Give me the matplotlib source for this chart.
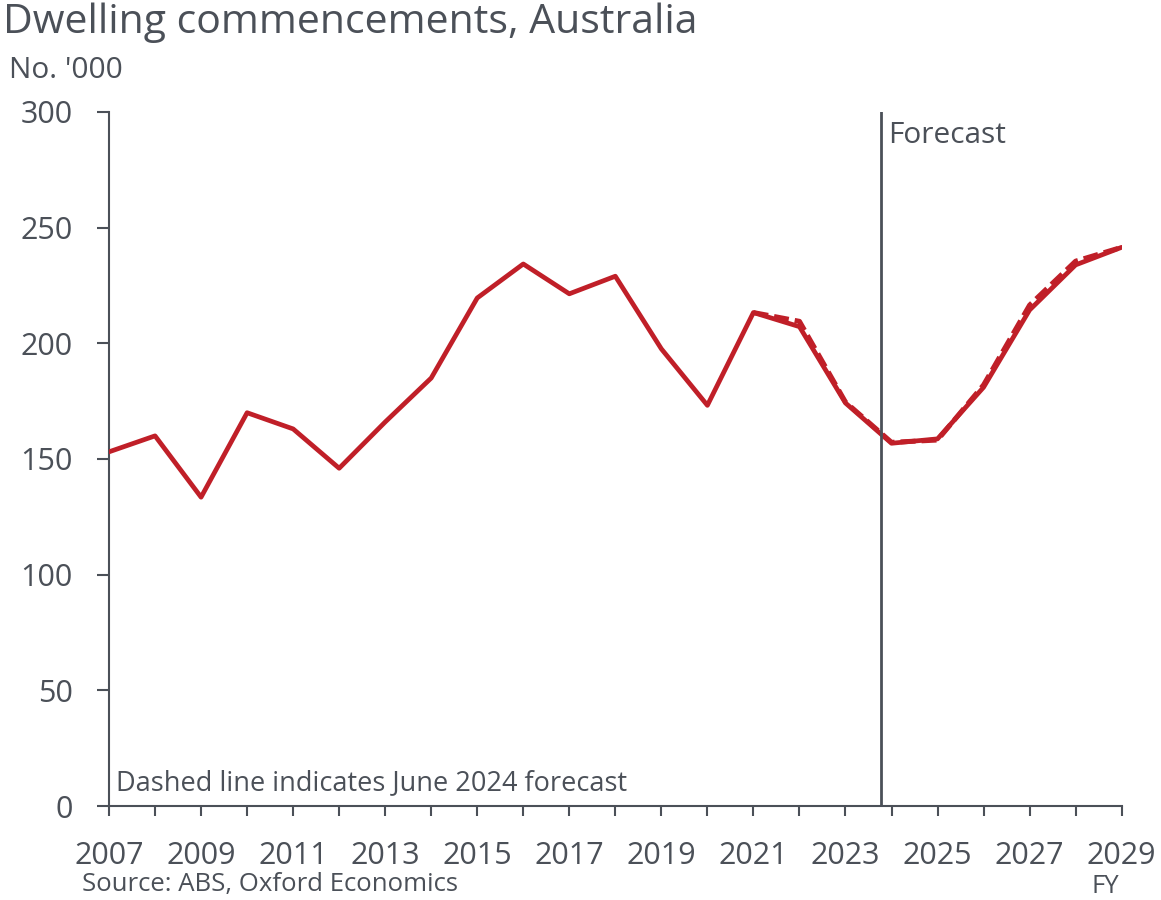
import matplotlib
matplotlib.use("Agg")
import matplotlib.pyplot as plt

plt.rcParams['font.family'] = ['Open Sans', 'DejaVu Sans']

years = list(range(2007, 2030))
commencements = [153.1, 160.0, 133.5, 170.0, 163.0, 146.0, 166.0, 185.0, 219.6, 234.3,
                 221.4, 229.0, 197.6, 173.2, 213.3, 207.2, 174.2, 156.8, 158.7, 181.0,
                 214.4, 233.9, 241.5]

prior_years = list(range(2021, 2030))
prior_forecast = [213.3, 209.5, 174.6, 157.2, 158.2, 182.0, 216.5, 235.5, 241.5]

forecast_start = 2023.78
y_ticks = [0, 50, 100, 150, 200, 250, 300]
x_label_years = list(range(2007, 2030, 2))

red = '#c01f28'
grey = '#4b5058'

fig = plt.figure(figsize=(11.61, 9.0), dpi=100)
ax = fig.add_axes([0.0939, 0.1044, 0.8722, 0.7712])

ax.plot(prior_years, prior_forecast, color=red, lw=3.6, ls=(0, (3, 1.2)),
        solid_capstyle='round', zorder=3)
ax.plot(years, commencements, color=red, lw=3.4, solid_joinstyle='round',
        solid_capstyle='round', zorder=4)

ax.axvline(forecast_start, color=grey, lw=2.0, zorder=5)
ax.text(forecast_start + 0.15, 290, 'Forecast', color=grey, fontsize=21.5,
        va='center', ha='left')

ax.set_xlim(2007, 2029)
ax.set_ylim(0, 300)
ax.set_yticks(y_ticks)
ax.set_xticks(years, minor=False)
ax.set_xticklabels([str(y) if y in x_label_years else '' for y in years])

for side in ('top', 'right'):
    ax.spines[side].set_visible(False)
for side in ('left', 'bottom'):
    ax.spines[side].set_color(grey)
    ax.spines[side].set_linewidth(1.5)

ax.tick_params(axis='y', direction='out', length=9, width=1.5, color=grey,
               labelcolor=grey, labelsize=22, pad=17)
ax.tick_params(axis='x', direction='out', length=7.5, width=1.5, color=grey,
               labelcolor=grey, labelsize=22, pad=18)

ax.text(0.007, 0.013, 'Dashed line indicates June 2024 forecast', transform=ax.transAxes,
        color=grey, fontsize=19.5, ha='left', va='bottom')

fig.text(0.003, 0.997, 'Dwelling commencements, Australia', color=grey, fontsize=29.5,
         ha='left', va='top')
fig.text(0.008, 0.922, "No. '000", color=grey, fontsize=21.5, ha='left', va='center')
fig.text(0.071, 0.0175, 'Source: ABS, Oxford Economics', color=grey, fontsize=18.5,
         ha='left', va='center')
fig.text(0.952, 0.0145, 'FY', color=grey, fontsize=18.5, ha='center', va='center')

fig.savefig('out.png', dpi=100)
